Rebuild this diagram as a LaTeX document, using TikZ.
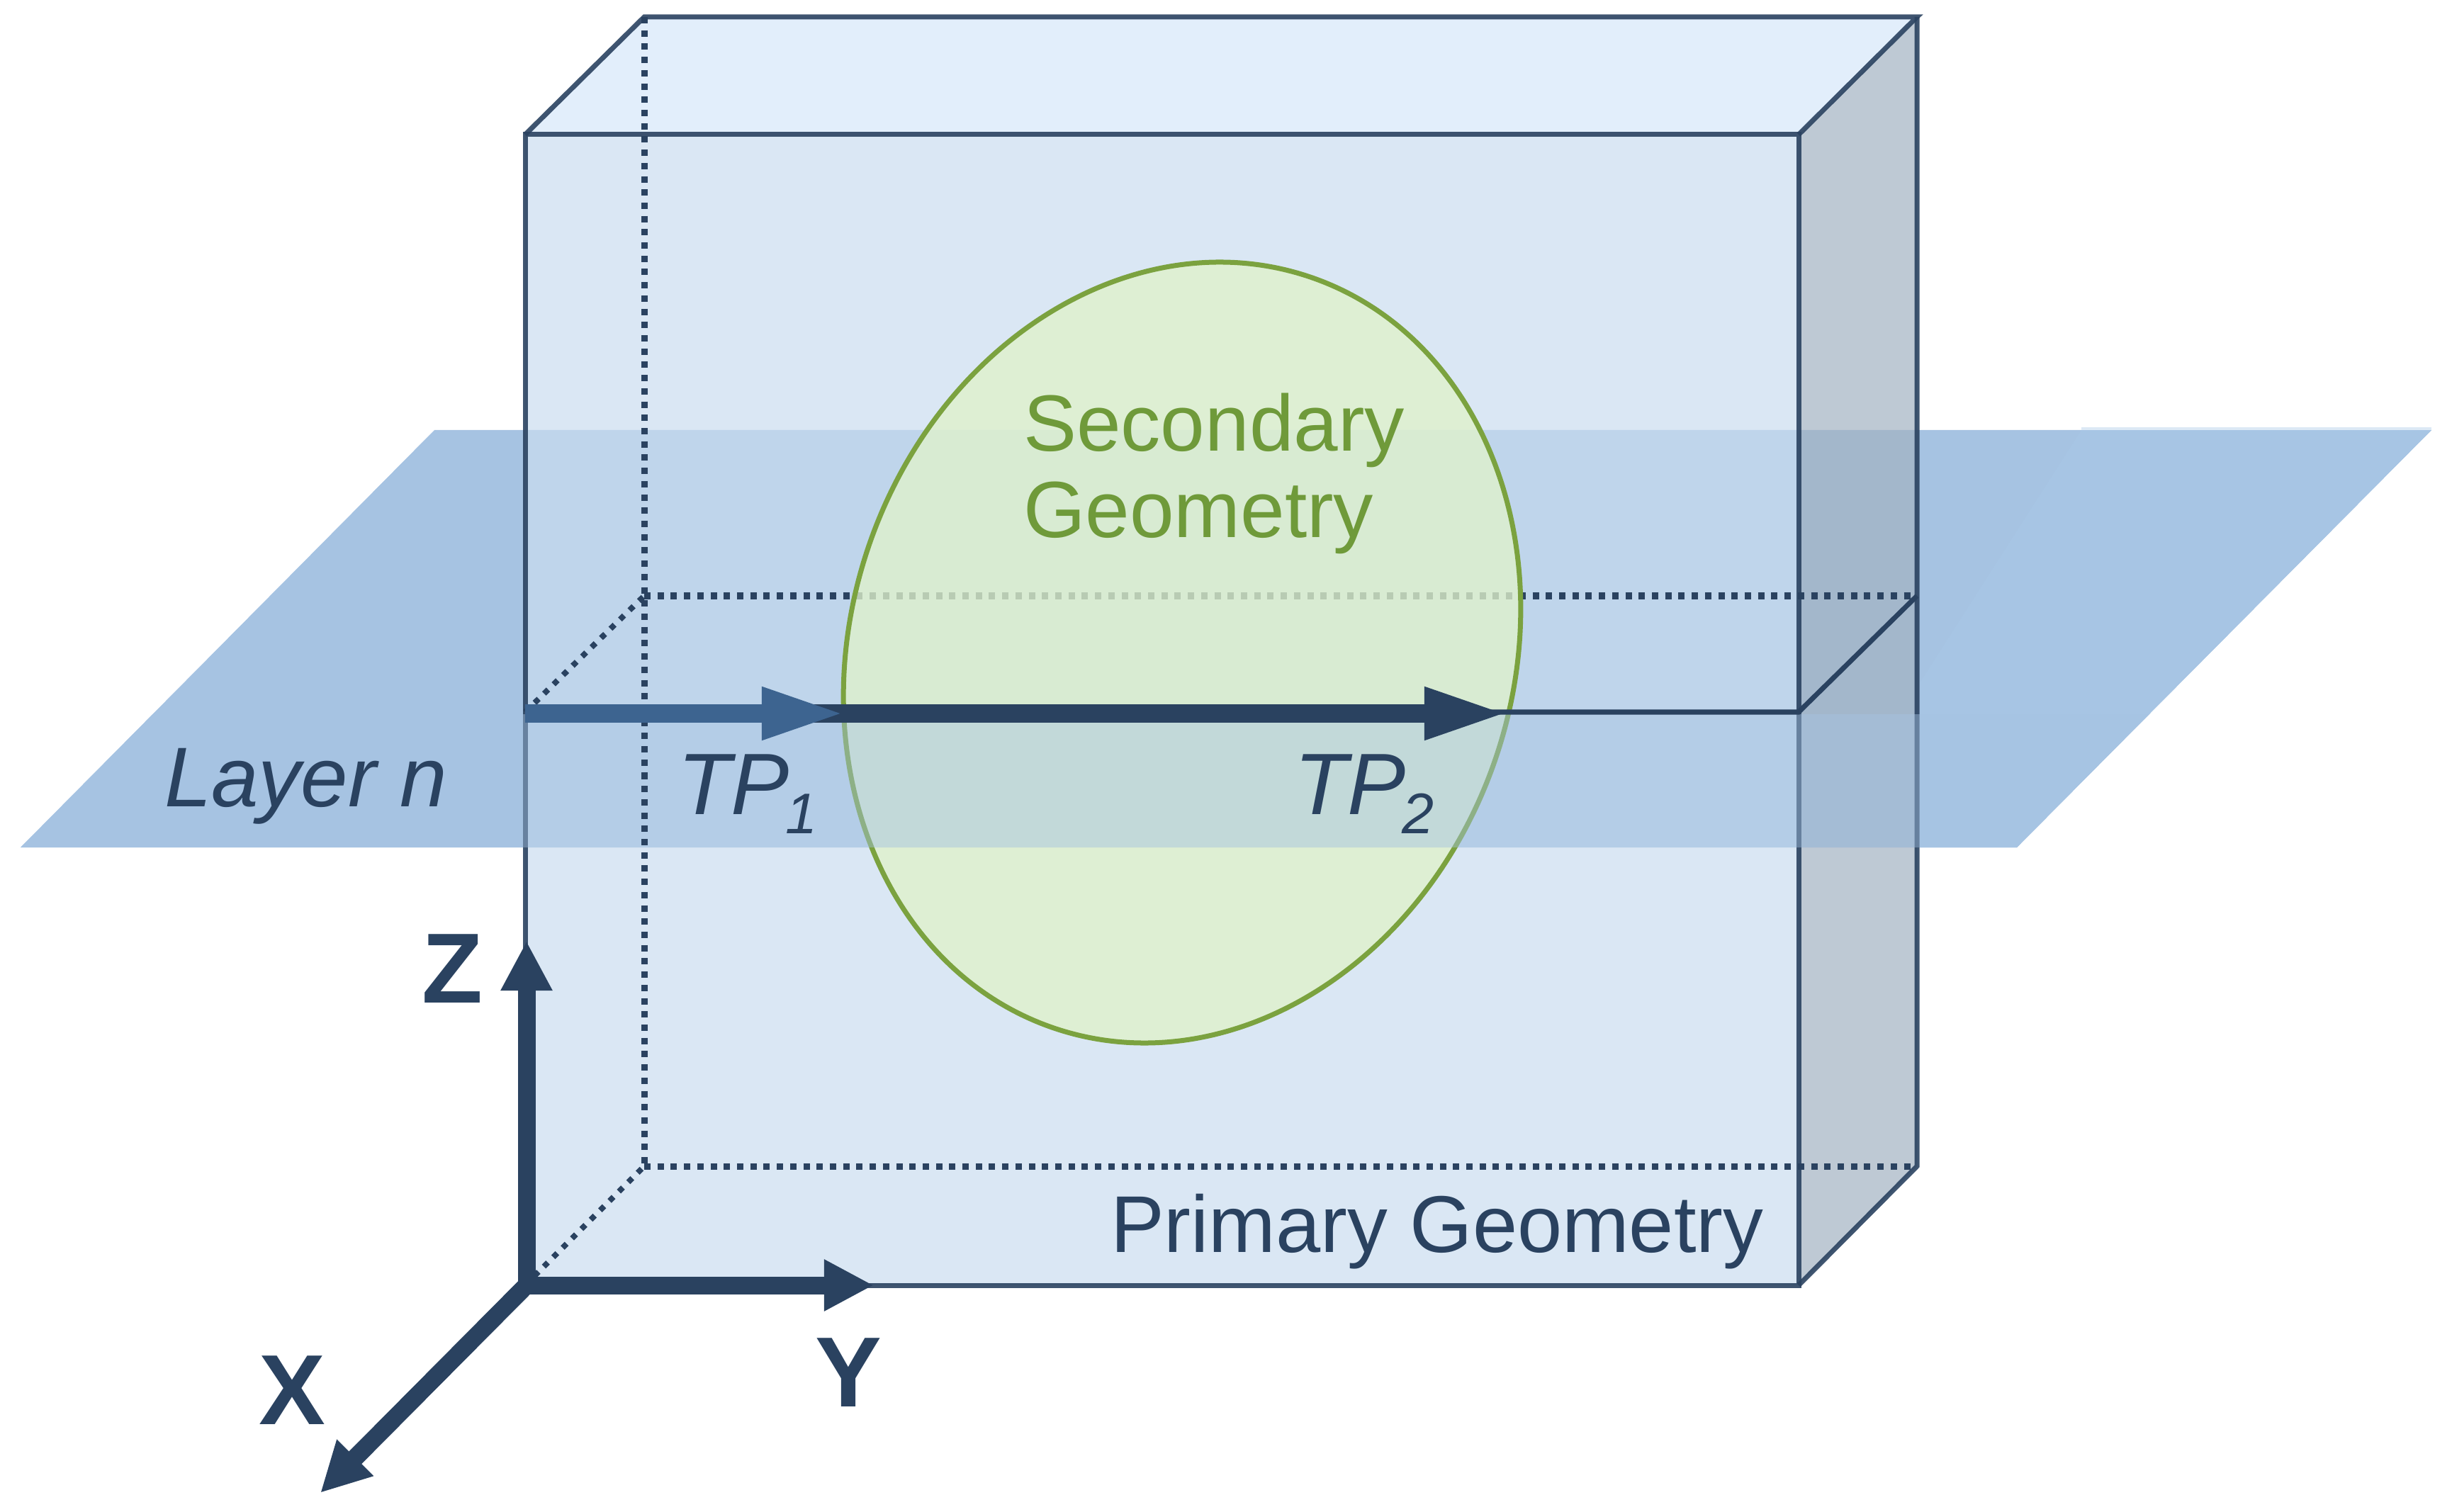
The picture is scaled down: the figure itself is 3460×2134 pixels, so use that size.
\documentclass[tikz,border=0pt]{standalone}
\usepackage{fontspec}
\setmainfont{Liberation Sans}
\usepackage{xcolor}
\usetikzlibrary{arrows.meta, calc}
\definecolor{edgeblue}{HTML}{2A4260}
\definecolor{layerblue}{HTML}{A6C3E2}
\definecolor{layerlight}{HTML}{A7C5E4}
\definecolor{firstblue}{HTML}{3D6490}
\definecolor{secgreen}{HTML}{7BA23F}
\definecolor{sectext}{HTML}{6F9A3A}
\tikzstyle{edge} = [draw=edgeblue, line width=0.07cm, draw opacity=0.9, line join=miter]
\tikzstyle{hidden} = [draw=edgeblue, line width=0.09cm, dash pattern=on 0.09cm off 0.097cm]
\tikzstyle{slanted} = [draw=edgeblue, line width=0.08cm, dash pattern=on 0.08cm off 0.107cm]
\tikzstyle{axis} = [draw=edgeblue, line width=0.25cm, -{Triangle[length=0.7cm,width=0.68cm]}]
\tikzstyle{track} = [draw=edgeblue, line width=0.25cm, -{Triangle[length=1.17cm,width=0.68cm]}]
\tikzstyle{label} = [inner sep=0pt, outer sep=0pt, text=edgeblue]
\newcommand{\subfont}[1]{\kern-0.05cm\raisebox{-0.27cm}{\fontsize{23}{23}\selectfont #1}}

\begin{document}
\begin{tikzpicture}[x=0.01cm, y=-0.01cm]
\useasboundingbox (0,0) rectangle (3460,2134);

\coordinate (ftl) at (741,190);
\coordinate (ftr) at (2538,190);
\coordinate (fbl) at (741,1814);
\coordinate (fbr) at (2538,1814);
\coordinate (btl) at (909,24);
\coordinate (btr) at (2705,24);
\coordinate (bbl) at (909,1646);
\coordinate (bbr) at (2705,1646);
\coordinate (fml) at (741,1005);
\coordinate (fmr) at (2538,1005);
\coordinate (bml) at (909,841);
\coordinate (bmr) at (2705,841);
\coordinate (la) at (613,607);
\coordinate (lb) at (3431,607);
\coordinate (lc) at (2846,1196);
\coordinate (ld) at (29,1196);
\coordinate (lsl) at ($(la)!0.681!(ld)$);
\coordinate (lsr) at ($(lb)!0.681!(lc)$);
\coordinate (org) at (743,1814);
\coordinate (zend) at (743,1328);
\coordinate (yend) at (1233,1814);
\coordinate (xend) at (452,2107);
\coordinate (tpa) at (741,1007);
\coordinate (tpb) at (1192,1007);
\coordinate (tpc) at (2127,1007);

\fill[layerblue] (la) -- (lb) -- (lc) -- (ld) -- cycle;
\fill[layerlight] (2937,607) -- (lb) -- (lc) -- (2705,1196) -- (2705,970) -- cycle;
\fill[color={rgb,255:red,220;green,233;blue,245}] (2937,603) rectangle (3431,607);
\fill[color={rgb,255:red,226;green,238;blue,251}] (ftl) -- (btl) -- (btr) -- (ftr) -- cycle;
\fill[color={rgb,255:red,163;green,178;blue,194}, fill opacity=0.7] (ftr) -- (btr) -- (bbr) -- (fbr) -- cycle;
\fill[color={rgb,255:red,202;green,221;blue,239}, fill opacity=0.7] (ftl) -- (ftr) -- (fbr) -- (fbl) -- cycle;

\draw[hidden] (bml) -- (bmr);
\draw[hidden] (bbl) -- (bbr);
\draw[slanted] (fml) -- (bml);
\draw[slanted] (fbl) -- (bbl);

\draw[edge] (ftl) -- (ftr) -- (fbr) -- (fbl) -- cycle;
\draw[edge] (ftl) -- (btl) -- (btr) -- (ftr);
\draw[edge] (btr) -- (bbr) -- (fbr);

\filldraw[draw=secgreen, line width=0.07cm, fill={rgb,255:red,224;green,242;blue,203}, fill opacity=0.78, rotate around={-19:(1668,921)}] (1668,921) ellipse (467 and 560);

\fill[layerblue, fill opacity=0.44] (lsl) -- (lsr) -- (lc) -- (ld) -- cycle;

\draw[hidden] (btl) -- (bbl);
\draw[edge, draw opacity=1] (fml) -- (fmr) -- (bmr);

\draw[track] (tpa) -- (tpc);
\draw[track, draw=firstblue] (tpa) -- (tpb);
\draw[axis] (org) -- (zend);
\draw[axis] (org) -- (yend);
\draw[axis] (org) -- (xend);

\node (layern) [label, anchor=base west, font=\fontsize{34}{34}\selectfont\itshape] at (232,1138) {Layer n};
\node (tpone) [label, anchor=base west, font=\fontsize{35}{35}\selectfont\itshape] at (956,1149) {TP\subfont{1}};
\node (tptwo) [label, anchor=base west, font=\fontsize{35}{35}\selectfont\itshape] at (1826,1149) {TP\subfont{2}};
\node (secondary) [label, anchor=west, align=left, text=sectext, font=\fontsize{32}{34.7}\selectfont] at (1444,668) {Secondary\\Geometry};
\node (primary) [label, anchor=base west, font=\fontsize{32.3}{32.3}\selectfont] at (1567,1767) {Primary Geometry};
\node (zlabel) [label, anchor=base, font=\fontsize{40}{40}\selectfont\bfseries] at (638,1415) {Z};
\node (ylabel) [label, anchor=base, font=\fontsize{40}{40}\selectfont\bfseries] at (1197,1985) {Y};
\node (xlabel) [label, anchor=base, font=\fontsize{40}{40}\selectfont\bfseries] at (412,2010) {X};
\end{tikzpicture}
\end{document}
